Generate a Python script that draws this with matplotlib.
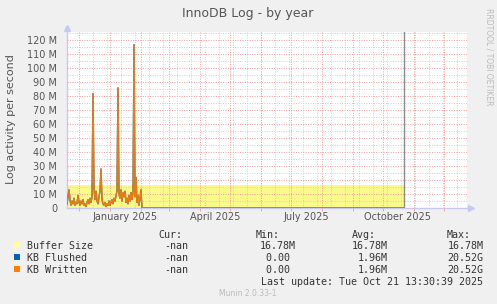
import numpy as np
import pandas as pd
import matplotlib
matplotlib.use("Agg")
import matplotlib.pyplot as plt
import matplotlib.ticker as mticker
from matplotlib.patches import Rectangle

# daily values (M per second) from 2024-11-19 while the server was reporting
written_m = [3, 8, 13, 6, 2, 5, 3, 7, 2, 4, 3, 9, 4, 2, 5, 3, 6, 2, 3, 1,
             4, 6, 3, 7, 4, 8, 82, 14, 6, 12, 5, 3, 8, 12, 28, 6, 3, 2, 4, 1,
             3, 2, 5, 2, 4, 6, 3, 7, 5, 9, 12, 86, 10, 7, 13, 5, 11, 8, 12, 4,
             7, 3, 9, 5, 11, 6, 12, 117, 8, 22, 4, 9, 2, 7, 13, 0]
flushed_m = list(written_m)
first_day = "2024-11-19"
last_update = "2025-10-21 13:30"
buffer_size_m = 16.78

x_start = "2024-11-19"
x_end = "2025-12-24"
label_dates = ["2025-01-16", "2025-04-16", "2025-07-16", "2025-10-16"]
label_texts = ["January 2025", "April 2025", "July 2025", "October 2025"]

legend_names = ["Buffer Size", "KB Flushed", "KB Written"]
legend_colors = ["#FFFF9C", "#0066B3", "#FF8000"]
cur_vals = ["-nan", "-nan", "-nan"]
min_vals = ["16.78M", "0.00", "0.00"]
avg_vals = ["16.78M", "1.96M", "1.96M"]
max_vals = ["16.78M", "20.52G", "20.52G"]

W, H = 497, 304
fig = plt.figure(figsize=(W / 100, H / 100), dpi=100, facecolor="#F0F0F0")
ax = fig.add_axes([67 / W, 1 - 208 / H, 400 / W, 176 / H])
ax.set_facecolor("white")

days = pd.date_range(first_day, periods=len(written_m), freq="D")
t_now = pd.Timestamp(last_update)
t_w = list(days) + [t_now]
written = np.array(written_m + [0.0]) * 1e6
flushed = np.array(flushed_m + [0.0]) * 1e6

# buffer size area
ax.fill_between([pd.Timestamp(x_start), t_now], 0, buffer_size_m * 1e6,
                color="#FAFA8C", lw=0, zorder=1)

# grid
dot = (0, (1, 1.5))
for d in pd.date_range("2024-12-15", x_end, freq="14D"):
    ax.axvline(d, color="#CFCFCF", ls=dot, lw=0.7, zorder=2)
for d in pd.date_range("2024-12-01", x_end, freq="MS"):
    ax.axvline(d, color="#F29B9B", ls=dot, lw=0.7, zorder=2)
ax.yaxis.set_major_locator(mticker.MultipleLocator(10e6))
ax.yaxis.set_minor_locator(mticker.MultipleLocator(5e6))
ax.grid(axis="y", which="minor", color="#CFCFCF", ls=dot, lw=0.7, zorder=2)
ax.grid(axis="y", which="major", color="#F29B9B", ls=dot, lw=0.7, zorder=2)
ax.set_axisbelow(False)

ax.plot(t_w, flushed, color="#0066B3", lw=1.0, zorder=3)
ax.plot(t_w, written, color="#FF8000", lw=1.0, alpha=0.9, zorder=4)
ax.axvline(t_now, color="#8C8C8C", lw=1.0, zorder=5)

ax.set_xlim(pd.Timestamp(x_start), pd.Timestamp(x_end))
ax.set_ylim(0, 126e6)

ax.yaxis.set_major_formatter(mticker.FuncFormatter(
    lambda v, p: "0" if v == 0 else "%d M" % round(v / 1e6)))
ax.tick_params(axis="y", which="both", length=0, pad=7, labelsize=7,
               labelcolor="#555555")
ax.set_xticks(pd.to_datetime(label_dates))
ax.set_xticklabels(label_texts)
ax.set_xticks(pd.date_range("2024-12-01", x_end, freq="MS"), minor=True)
ax.tick_params(axis="x", which="major", length=0, pad=3, labelsize=7,
               labelcolor="#555555")
ax.tick_params(axis="x", which="minor", length=2, color="#F29B9B")

for s in ["top", "right"]:
    ax.spines[s].set_visible(False)
for s in ["left", "bottom"]:
    ax.spines[s].set_color("#C8C8F5")
    ax.spines[s].set_linewidth(1.0)
ax.plot([0], [1.02], marker="^", ms=4, color="#C8C8F5", transform=ax.transAxes,
        clip_on=False)
ax.plot([1.01], [0], marker=">", ms=4, color="#C8C8F5", transform=ax.transAxes,
        clip_on=False)

fig.text(248 / W, 1 - 17 / H, "InnoDB Log - by year", ha="center",
         va="baseline", fontsize=9, color="#555555")
fig.text(11 / W, 1 - 119 / H, "Log activity per second", rotation=90,
         ha="center", va="center", fontsize=8, color="#555555")
fig.text(489 / W, 1 - 56.5 / H, "RRDTOOL / TOBI OETIKER", rotation=270,
         ha="center", va="center", fontsize=5.5, color="#BBBBBB")
fig.text(248 / W, 1 - 293 / H, "Munin 2.0.33-1", ha="center", va="center",
         fontsize=5.5, color="#BBBBBB")

mono = dict(family="DejaVu Sans Mono", fontsize=7.2, color="#333333",
            va="baseline", ha="left")
fig.text(158.7 / W, 1 - 237.5 / H, "Cur:", **mono)
fig.text(255.7 / W, 1 - 237.5 / H, "Min:", **mono)
fig.text(351.7 / W, 1 - 237.5 / H, "Avg:", **mono)
fig.text(447 / W, 1 - 237.5 / H, "Max:", **mono)
for i, name in enumerate(legend_names):
    base = 249 + 12 * i
    fig.patches.append(Rectangle((14 / W, 1 - (base - 1) / H), 6 / W, 6 / H,
                                 transform=fig.transFigure,
                                 facecolor=legend_colors[i], lw=0))
    fig.text(26.7 / W, 1 - base / H, name, **mono)
    fig.text(188 / W, 1 - base / H, cur_vals[i],
             **{**mono, "ha": "right"})
    fig.text(295.7 / W, 1 - base / H, min_vals[i] if min_vals[i].endswith("M")
             else min_vals[i] + " ", **{**mono, "ha": "right"})
    fig.text(387.3 / W, 1 - base / H, avg_vals[i], **{**mono, "ha": "right"})
    fig.text(483.3 / W, 1 - base / H, max_vals[i], **{**mono, "ha": "right"})
fig.text(483.3 / W, 1 - 285 / H, "Last update: Tue Oct 21 13:30:39 2025",
         **{**mono, "ha": "right"})

fig.savefig("out.png", dpi=100, facecolor=fig.get_facecolor())
